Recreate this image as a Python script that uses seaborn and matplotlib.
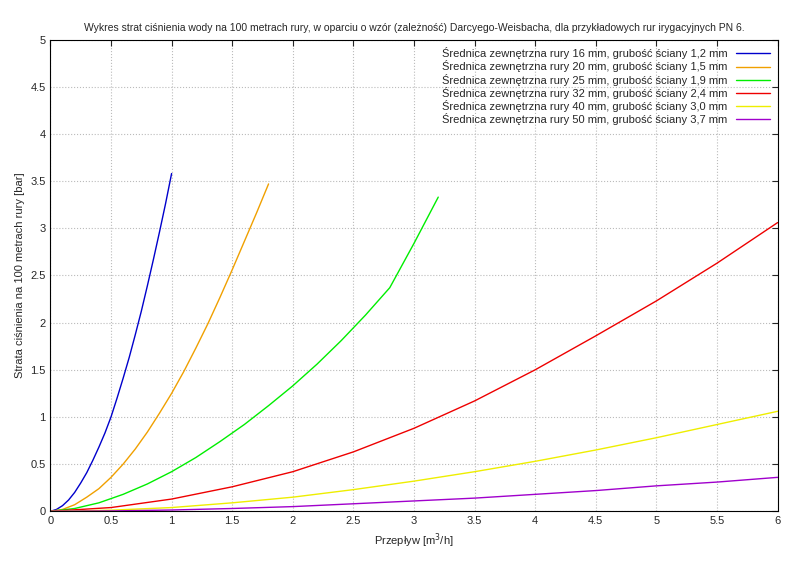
import numpy as np
import pandas as pd
import seaborn as sns
import matplotlib.pyplot as plt

sns.set_style('white')
plt.rcParams['font.family'] = ['Liberation Sans', 'DejaVu Sans']

labels = ['Średnica zewnętrzna rury 16 mm, grubość ściany 1,2 mm',
          'Średnica zewnętrzna rury 20 mm, grubość ściany 1,5 mm',
          'Średnica zewnętrzna rury 25 mm, grubość ściany 1,9 mm',
          'Średnica zewnętrzna rury 32 mm, grubość ściany 2,4 mm',
          'Średnica zewnętrzna rury 40 mm, grubość ściany 3,0 mm',
          'Średnica zewnętrzna rury 50 mm, grubość ściany 3,7 mm']
colors = ['#0000cc', '#f0a000', '#00ee00', '#ee0000', '#eeee00', '#a000cc']

x16 = [0, 0.05, 0.1, 0.15, 0.2, 0.25, 0.3, 0.35, 0.4, 0.45, 0.5, 0.55, 0.6, 0.65,
       0.7, 0.75, 0.8, 0.85, 0.9, 0.95, 1.0]
y16 = [0, 0.02, 0.06, 0.12, 0.2, 0.3, 0.41, 0.54, 0.68, 0.83, 1.0, 1.2, 1.41, 1.63,
       1.87, 2.12, 2.39, 2.67, 2.96, 3.26, 3.58]
x20 = [0, 0.1, 0.2, 0.3, 0.4, 0.5, 0.6, 0.7, 0.8, 0.9, 1.0, 1.1, 1.2, 1.3, 1.4,
       1.5, 1.6, 1.7, 1.8]
y20 = [0, 0.02, 0.07, 0.15, 0.24, 0.36, 0.5, 0.66, 0.84, 1.04, 1.25, 1.48, 1.73,
       1.99, 2.27, 2.56, 2.86, 3.16, 3.47]
x25 = [0, 0.2, 0.4, 0.6, 0.8, 1.0, 1.2, 1.4, 1.6, 1.8, 2.0, 2.2, 2.4, 2.6, 2.8,
       3.0, 3.2]
y25 = [0, 0.03, 0.09, 0.19, 0.3, 0.44, 0.59, 0.76, 0.95, 1.15, 1.37, 1.6, 1.85,
       2.12, 2.41, 2.86, 3.33]
y25 = [0, 0.03, 0.09, 0.18, 0.29, 0.42, 0.57, 0.74, 0.92, 1.12, 1.33, 1.56, 1.81,
       2.08, 2.37, 2.84, 3.33]
x32 = [0, 0.5, 1, 1.5, 2, 2.5, 3, 3.5, 4, 4.5, 5, 5.5, 6]
y32 = [0, 0.04, 0.13, 0.26, 0.42, 0.63, 0.88, 1.17, 1.5, 1.86, 2.23, 2.63, 3.06]
x40 = [0, 0.5, 1, 1.5, 2, 2.5, 3, 3.5, 4, 4.5, 5, 5.5, 6]
y40 = [0, 0.012, 0.04, 0.09, 0.15, 0.23, 0.32, 0.42, 0.53, 0.65, 0.78, 0.92, 1.06]
x50 = [0, 0.5, 1, 1.5, 2, 2.5, 3, 3.5, 4, 4.5, 5, 5.5, 6]
y50 = [0, 0.004, 0.014, 0.03, 0.05, 0.08, 0.11, 0.14, 0.18, 0.22, 0.27, 0.31, 0.36]

series = [(x16, y16), (x20, y20), (x25, y25), (x32, y32), (x40, y40), (x50, y50)]

fig, ax = plt.subplots(figsize=(8, 5.65), dpi=100)
fig.subplots_adjust(left=0.063, right=0.972, top=0.93, bottom=0.095)
for (xs, ys), lab, c in zip(series, labels, colors):
    sns.lineplot(x=xs, y=ys, ax=ax, color=c, lw=1, label=lab)

ax.set_xlim(0, 6)
ax.set_ylim(0, 5)
ax.set_xticks(np.arange(0, 6.01, 0.5))
ax.set_yticks(np.arange(0, 5.01, 0.5))
ax.set_xticklabels([f'{v:g}' for v in np.arange(0, 6.01, 0.5)])
ax.set_yticklabels([f'{v:g}' for v in np.arange(0, 5.01, 0.5)])
ax.grid(True, color='#bbbbbb', ls=':', lw=0.8)
ax.tick_params(direction='in', labelsize=8, top=True, right=True, length=4)
for s in ax.spines.values():
    s.set_color('black')
    s.set_linewidth(0.8)
ax.set_xlabel('Przepływ [m$^3$/h]', fontsize=8)
ax.set_ylabel('Strata ciśnienia na 100 metrach rury [bar]', fontsize=8)
ax.set_title('Wykres strat ciśnienia wody na 100 metrach rury, w oparciu o wzór (zależność) Darcyego-Weisbacha, dla przykładowych rur irygacyjnych PN 6.',
             fontsize=7.5)
ax.legend(loc='upper right', frameon=False, fontsize=8, markerfirst=False,
          handlelength=3, labelspacing=0.1, borderaxespad=0.3)
fig.savefig('out.png')
